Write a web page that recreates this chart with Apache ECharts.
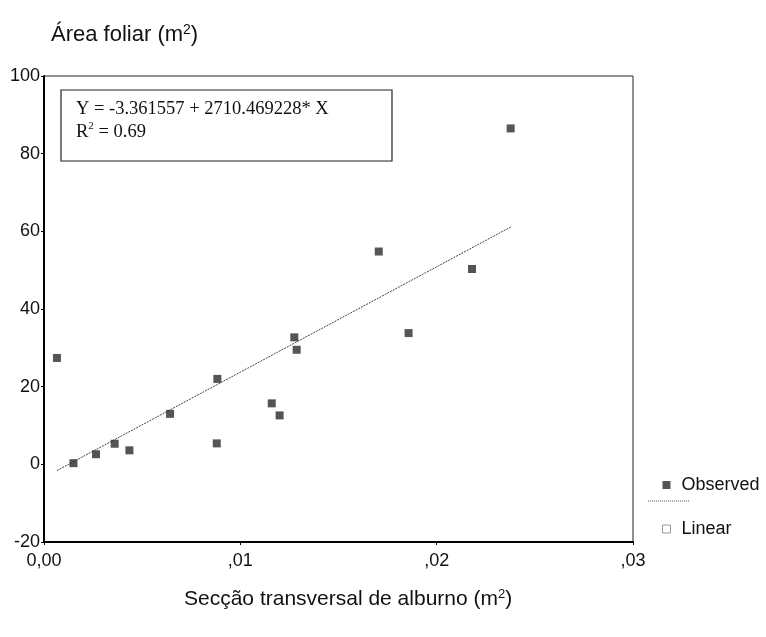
<!DOCTYPE html>
<html>
<head>
<meta charset="utf-8">
<script src="https://cdn.jsdelivr.net/npm/echarts@6/dist/echarts.min.js"></script>
<style>html,body{margin:0;padding:0;background:#fff}#c{width:766px;height:637px}</style>
</head>
<body>
<div id="c"></div>
<script>
var obsX = [0.00066, 0.0015, 0.00265, 0.0036, 0.00435, 0.00642, 0.00883, 0.0088, 0.0116, 0.0120, 0.01275, 0.01287, 0.01705, 0.01857, 0.0218, 0.02377];
var obsY = [27.4, 0.3, 2.6, 5.3, 3.6, 13.0, 22.0, 5.4, 15.7, 12.6, 32.7, 29.5, 54.8, 33.8, 50.3, 86.5];
// Linear fit line endpoints
var fitX = [0.00066, 0.02377];
var fitY = [-1.6, 61.1];
var xTickValues = [0, 0.01, 0.02, 0.03];
var xTickLabels = ['0,00', ',01', ',02', ',03'];
var yTickValues = [-20, 0, 20, 40, 60, 80, 100];
var yTickLabels = ['-20', '0', '20', '40', '60', '80', '100'];
var equationLine1 = 'Y = -3.361557 + 2710.469228* X';
var equationLine2 = 'R{sup|2} = 0.69';

var obsData = obsX.map(function (x, i) { return [x, obsY[i]]; });
var fitData = fitX.map(function (x, i) { return [x, fitY[i]]; });

var chart = echarts.init(document.getElementById('c'), null, {renderer: 'canvas'});
var sansFont = 'Liberation Sans, Arial, sans-serif';
chart.setOption({
  backgroundColor: '#fff',
  animation: false,
  title: [
    {
      text: 'Área foliar (m{sup|2})',
      left: 46, top: 18,
      textStyle: {
        fontFamily: sansFont, fontSize: 22, fontWeight: 'normal', color: '#111',
        rich: {sup: {fontFamily: sansFont, fontSize: 14, verticalAlign: 'top', padding: [0, 0, 10, 0], color: '#111'}}
      }
    },
    {
      text: 'Secção transversal de alburno (m{sup|2})',
      left: 179, top: 583,
      textStyle: {
        fontFamily: sansFont, fontSize: 21, fontWeight: 'normal', color: '#111',
        rich: {sup: {fontFamily: sansFont, fontSize: 13, verticalAlign: 'top', padding: [0, 0, 10, 0], color: '#111'}}
      }
    }
  ],
  grid: {left: 44, right: 133, top: 76, bottom: 95, show: true, borderColor: '#222', borderWidth: 1, backgroundColor: '#fff'},
  xAxis: {
    type: 'value', min: 0, max: 0.03, interval: 0.01,
    axisLine: {show: true, onZero: false, lineStyle: {color: '#000', width: 2}},
    axisTick: {show: true, length: 3, lineStyle: {color: '#000'}},
    splitLine: {show: false},
    axisLabel: {
      fontFamily: sansFont, fontSize: 18, color: '#111', margin: 10,
      formatter: function (v) {
        for (var i = 0; i < xTickValues.length; i++) { if (Math.abs(v - xTickValues[i]) < 1e-9) return xTickLabels[i]; }
        return '';
      }
    }
  },
  yAxis: {
    type: 'value', min: -20, max: 100, interval: 20,
    axisLine: {show: true, onZero: false, lineStyle: {color: '#000', width: 2}},
    axisTick: {show: true, length: 3, lineStyle: {color: '#000'}},
    splitLine: {show: false},
    axisLabel: {
      fontFamily: sansFont, fontSize: 18, color: '#111', margin: 4,
      formatter: function (v) {
        var i = yTickValues.indexOf(v);
        return i >= 0 ? yTickLabels[i] : '';
      }
    }
  },
  legend: {
    orient: 'vertical', left: 657, top: 471,
    itemWidth: 8, itemHeight: 8, itemGap: 26,
    textStyle: {fontFamily: sansFont, fontSize: 18, color: '#111', padding: [0, 0, 0, 6]},
    data: [
      {name: 'Observed', icon: 'rect', itemStyle: {color: '#2a2a2a'}},
      {name: 'Linear', icon: 'rect', itemStyle: {color: '#fff', borderColor: '#999', borderWidth: 1}}
    ]
  },
  graphic: [
    {type: 'line', shape: {x1: 648, y1: 501, x2: 690, y2: 501}, style: {stroke: '#555', lineWidth: 1, lineDash: [1, 1]}},
    {type: 'rect', shape: {x: 61, y: 90, width: 331, height: 71}, style: {fill: '#fff', stroke: '#222', lineWidth: 1.2}, z: 10},
    {
      type: 'text', left: 76, top: 98, z: 11,
      style: {
        text: equationLine1 + '\n' + equationLine2,
        font: '18.5px "Liberation Serif", "Times New Roman", serif',
        fill: '#111', lineHeight: 23,
        rich: {sup: {font: '11px "Liberation Serif", serif', verticalAlign: 'top', padding: [0, 0, 8, 0], fill: '#111'}}
      }
    }
  ],
  series: [
    {
      name: 'Linear', type: 'line', data: fitData, symbol: 'none',
      lineStyle: {color: '#444', width: 1, type: [2, 1]}, z: 2
    },
    {
      name: 'Observed', type: 'scatter', data: obsData, symbol: 'rect', symbolSize: 8,
      itemStyle: {color: '#2a2a2a'}, z: 3
    }
  ]
});
</script>
</body>
</html>
